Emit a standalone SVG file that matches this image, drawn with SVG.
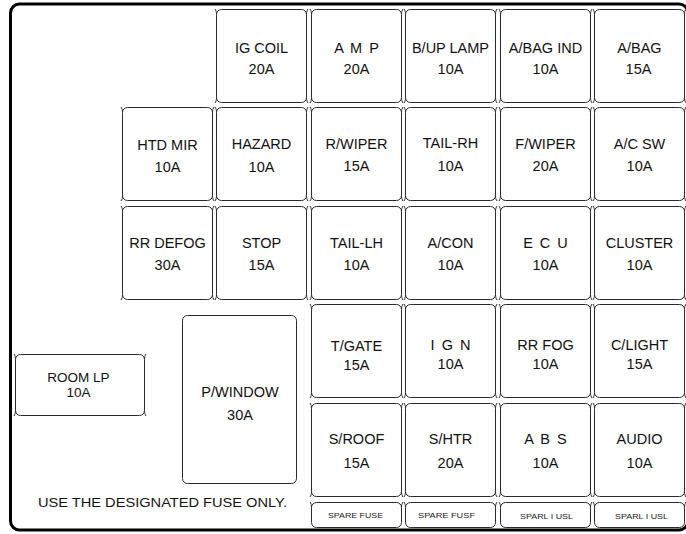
<svg xmlns="http://www.w3.org/2000/svg" xmlns:xlink="http://www.w3.org/1999/xlink" width="686" height="534" viewBox="0 0 686 534">
<style>
.bx{fill:none;stroke:#2a2a2a;stroke-width:1}
.t{font-family:"Liberation Sans",Arial,sans-serif;font-size:14.5px;fill:#111;text-anchor:middle}
.sp{font-family:"Liberation Sans",Arial,sans-serif;font-size:8px;fill:#222;text-anchor:middle}
.ws{word-spacing:3px}
</style>
<defs>
<path id="fz" class="bx" d="M5,0 H85 A5,5 0 0 1 90,5 V88 A5,5 0 0 1 85,93 H5 A5,5 0 0 1 0,88 V5 A5,5 0 0 1 5,0 Z M0,5 C0,2.5 -0.5,1 -1.5,-0.5 M90,5 C90,2.5 90.5,1 91.5,-0.5 M90,88 C90,90.5 90.5,92 91.5,93.5 M0,88 C0,90.5 -0.5,92 -1.5,93.5"/>
<path id="fs" class="bx" d="M5,0 H85 A5,5 0 0 1 90,5 V20 A5,5 0 0 1 85,25 H5 A5,5 0 0 1 0,20 V5 A5,5 0 0 1 5,0 Z M0,5 C0,2.5 -0.5,1 -1.5,-0.5 M90,5 C90,2.5 90.5,1 91.5,-0.5"/>
</defs>
<rect x="10.5" y="4" width="677.5" height="526" rx="9" fill="#fff" stroke="#000" stroke-width="3"/>
<g id="connectors"/>

<!-- Row 1 -->
<g id="ig-coil" transform="translate(216.5,9.5)"><use href="#fz"/><text class="t" x="45" y="43.5">IG COIL</text><text class="t" x="45" y="64.5">20A</text></g>
<g id="amp" transform="translate(311.5,9.5)"><use href="#fz"/><text class="t ws" x="45" y="43.5">A M P</text><text class="t" x="45" y="64.5">20A</text></g>
<g id="bup-lamp" transform="translate(405.5,9.5)"><use href="#fz"/><text class="t" x="45" y="43.5">B/UP LAMP</text><text class="t" x="45" y="64.5">10A</text></g>
<g id="abag-ind" transform="translate(500.5,9.5)"><use href="#fz"/><text class="t" x="45" y="43.5">A/BAG IND</text><text class="t" x="45" y="64.5">10A</text></g>
<g id="abag" transform="translate(594.5,9.5)"><use href="#fz"/><text class="t" x="45" y="43.5">A/BAG</text><text class="t" x="44" y="64.5">15A</text></g>

<!-- Row 2 -->
<g id="htd-mir" transform="translate(122.5,107.5)"><use href="#fz"/><text class="t" x="45" y="42.5">HTD MIR</text><text class="t" x="45" y="64.5">10A</text></g>
<g id="hazard" transform="translate(216.5,107.5)"><use href="#fz"/><text class="t" x="45" y="41.5">HAZARD</text><text class="t" x="45" y="64.5">10A</text></g>
<g id="r-wiper" transform="translate(311.5,107.5)"><use href="#fz"/><text class="t" x="45" y="41.5">R/WIPER</text><text class="t" x="45" y="63.5">15A</text></g>
<g id="tail-rh" transform="translate(405.5,107.5)"><use href="#fz"/><text class="t" x="45" y="40.5">TAIL-RH</text><text class="t" x="45" y="63.5">10A</text></g>
<g id="f-wiper" transform="translate(500.5,107.5)"><use href="#fz"/><text class="t" x="45" y="41.5">F/WIPER</text><text class="t" x="45" y="63.5">20A</text></g>
<g id="ac-sw" transform="translate(594.5,107.5)"><use href="#fz"/><text class="t" x="45" y="41.5">A/C SW</text><text class="t" x="45" y="63.5">10A</text></g>

<!-- Row 3 -->
<g id="rr-defog" transform="translate(122.5,206.5)"><use href="#fz"/><text class="t" x="45" y="41">RR DEFOG</text><text class="t" x="45" y="63">30A</text></g>
<g id="stop" transform="translate(216.5,206.5)"><use href="#fz"/><text class="t" x="45" y="41">STOP</text><text class="t" x="45" y="63">15A</text></g>
<g id="tail-lh" transform="translate(311.5,206.5)"><use href="#fz"/><text class="t" x="45" y="41.5">TAIL-LH</text><text class="t" x="45" y="63">10A</text></g>
<g id="a-con" transform="translate(405.5,206.5)"><use href="#fz"/><text class="t" x="45" y="41.5">A/CON</text><text class="t" x="45" y="63">10A</text></g>
<g id="ecu" transform="translate(500.5,206.5)"><use href="#fz"/><text class="t ws" x="45" y="41">E C U</text><text class="t" x="45" y="63">10A</text></g>
<g id="cluster" transform="translate(594.5,206.5)"><use href="#fz"/><text class="t" x="45" y="41">CLUSTER</text><text class="t" x="45" y="63">10A</text></g>

<!-- Row 4 -->
<g id="t-gate" transform="translate(311.5,304.5)"><use href="#fz"/><text class="t" x="45" y="46.5">T/GATE</text><text class="t" x="45" y="65">15A</text></g>
<g id="ign" transform="translate(405.5,304.5)"><use href="#fz"/><text class="t ws" x="45" y="45.5">I G N</text><text class="t" x="45" y="64.5">10A</text></g>
<g id="rr-fog" transform="translate(500.5,304.5)"><use href="#fz"/><text class="t" x="45" y="45.5">RR FOG</text><text class="t" x="45" y="64.5">10A</text></g>
<g id="c-light" transform="translate(594.5,304.5)"><use href="#fz"/><text class="t" x="45" y="45.5">C/LIGHT</text><text class="t" x="45" y="64.5">15A</text></g>

<!-- Row 5 -->
<g id="s-roof" transform="translate(311.5,403.5)"><use href="#fz"/><text class="t" x="45" y="40">S/ROOF</text><text class="t" x="45" y="64.5">15A</text></g>
<g id="s-htr" transform="translate(405.5,403.5)"><use href="#fz"/><text class="t" x="45" y="40">S/HTR</text><text class="t" x="45" y="64.5">20A</text></g>
<g id="abs" transform="translate(500.5,403.5)"><use href="#fz"/><text class="t ws" x="45" y="40">A B S</text><text class="t" x="45" y="64.5">10A</text></g>
<g id="audio" transform="translate(594.5,403.5)"><use href="#fz"/><text class="t" x="45" y="40">AUDIO</text><text class="t" x="45" y="64.5">10A</text></g>

<!-- Spare row -->
<g id="spare-1" transform="translate(311.5,502.5)"><use href="#fs"/><text class="sp" x="44" y="15.5" textLength="55" lengthAdjust="spacingAndGlyphs">SPARE FUSE</text></g>
<g id="spare-2" transform="translate(405.5,502.5)"><use href="#fs"/><text class="sp" x="41" y="15.5" textLength="57" lengthAdjust="spacingAndGlyphs">SPARE FUSF</text></g>
<g id="spare-3" transform="translate(500.5,502.5)"><use href="#fs"/><text class="sp" x="46" y="16.5" textLength="53" lengthAdjust="spacingAndGlyphs">SPARL I USL</text></g>
<g id="spare-4" transform="translate(594.5,502.5)"><use href="#fs"/><text class="sp" x="47" y="16" textLength="53" lengthAdjust="spacingAndGlyphs">SPARL I USL</text></g>

<!-- Left side -->
<g id="room-lp" transform="translate(15.5,354.5)">
<path class="bx" d="M5,0 H124 A5,5 0 0 1 129,5 V56 A5,5 0 0 1 124,61 H5 A5,5 0 0 1 0,56 V5 A5,5 0 0 1 5,0 Z M0,5 C0,2.5 -0.5,1 -1.5,-0.5 M129,5 C129,2.5 129.5,1 130.5,-0.5 M129,56 C129,58.5 129.5,60 130.5,61.5 M0,56 C0,58.5 -0.5,60 -1.5,61.5"/>
<text class="t" x="63" y="27" style="font-size:13.5px">ROOM LP</text><text class="t" x="63" y="42.5" style="font-size:13.5px">10A</text>
</g>
<g id="p-window" transform="translate(182.5,315.5)">
<rect class="bx" x="0" y="0" width="114" height="168" rx="5"/>
<text class="t" x="57.5" y="81.5">P/WINDOW</text><text class="t" x="57.5" y="104.5">30A</text>
</g>
<text id="note" class="t" x="38" y="507" style="text-anchor:start;font-size:12.5px" textLength="249" lengthAdjust="spacingAndGlyphs">USE THE DESIGNATED FUSE ONLY.</text>
</svg>
